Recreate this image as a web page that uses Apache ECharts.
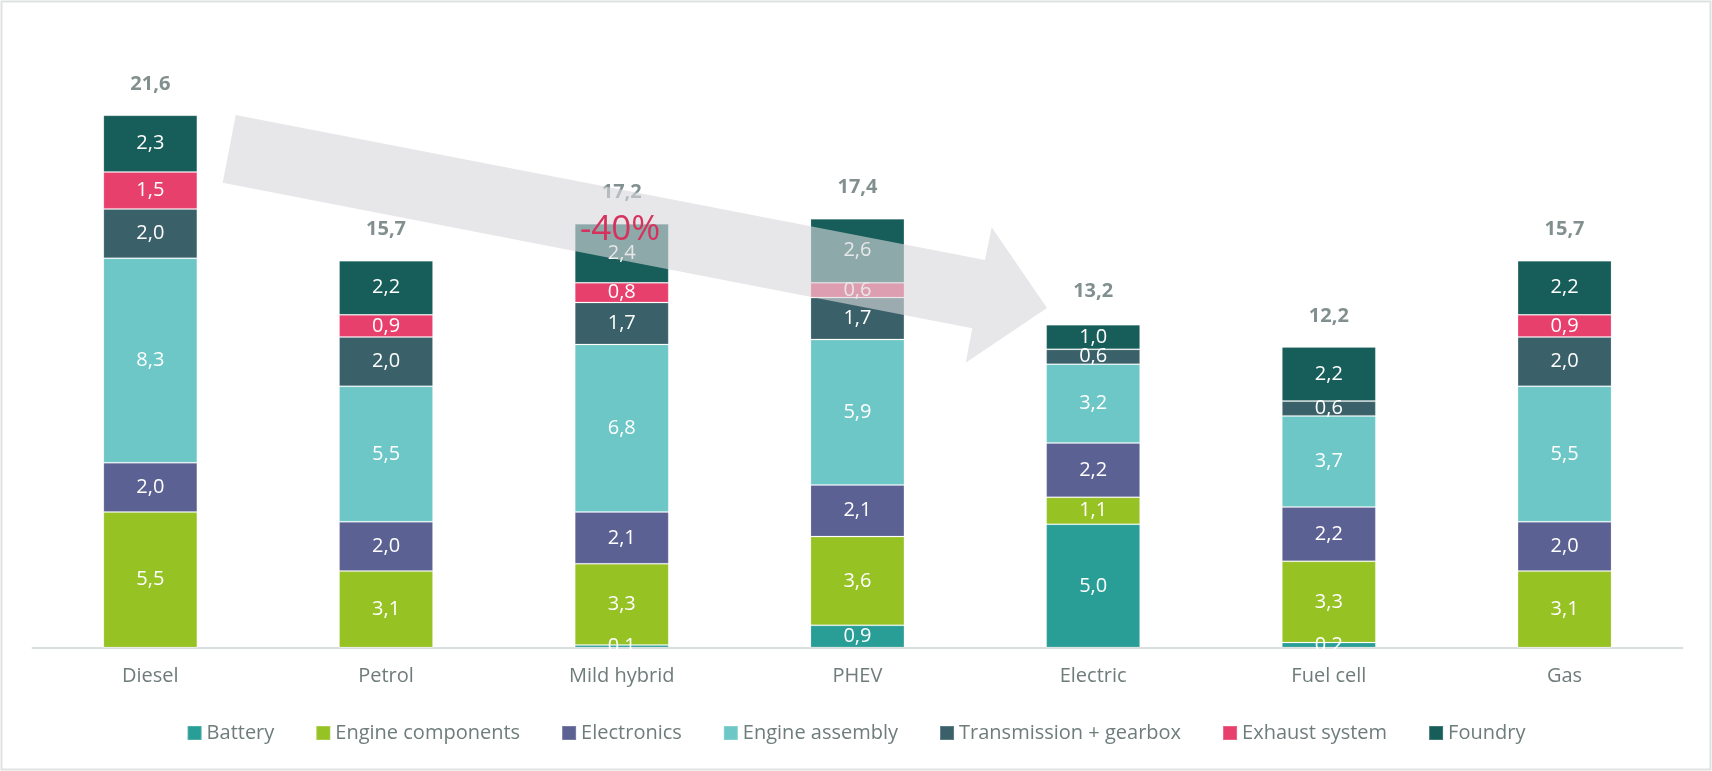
<!DOCTYPE html>
<html>
<head>
<meta charset="utf-8">
<script src="https://cdn.jsdelivr.net/npm/echarts@6/dist/echarts.min.js"></script>
<style>
  html, body { margin: 0; padding: 0; background: #fff; }
  #chart { width: 1712px; height: 771px; }
</style>
</head>
<body>
<div id="chart"></div>
<script>
let categories = ['Diesel', 'Petrol', 'Mild hybrid', 'PHEV', 'Electric', 'Fuel cell', 'Gas']

let battery = [0, 0, 0.1, 0.9, 5.0, 0.2, 0]
let engineComponents = [5.5, 3.1, 3.3, 3.6, 1.1, 3.3, 3.1]
let electronics = [2.0, 2.0, 2.1, 2.1, 2.2, 2.2, 2.0]
let engineAssembly = [8.3, 5.5, 6.8, 5.9, 3.2, 3.7, 5.5]
let transmission = [2.0, 2.0, 1.7, 1.7, 0.6, 0.6, 2.0]
let exhaust = [1.5, 0.9, 0.8, 0.6, 0, 0, 0.9]
let foundry = [2.3, 2.2, 2.4, 2.6, 1.0, 2.2, 2.2]
let totals = [21.6, 15.7, 17.2, 17.4, 13.2, 12.2, 15.7]

let parts = [
  { name: 'Battery', data: battery, color: '#289e96' },
  { name: 'Engine components', data: engineComponents, color: '#96c224' },
  { name: 'Electronics', data: electronics, color: '#5c6193' },
  { name: 'Engine assembly', data: engineAssembly, color: '#6cc7c6' },
  { name: 'Transmission + gearbox', data: transmission, color: '#3a6169' },
  { name: 'Exhaust system', data: exhaust, color: '#e8406d' },
  { name: 'Foundry', data: foundry, color: '#175d59' }
]

const FONT = '"Open Sans", "DejaVu Sans", sans-serif'
let fmt = v => v.toFixed(1).replace('.', ',')

let chart = echarts.init(document.getElementById('chart'))

let series = parts.map(p => ({
  name: p.name,
  type: 'bar',
  stack: 'total',
  barWidth: 94,
  data: p.data,
  itemStyle: {
    color: p.color,
    borderColor: 'rgba(255,255,255,0.18)',
    borderWidth: 1
  },
  label: {
    show: true,
    position: 'inside',
    color: '#fff',
    fontFamily: FONT,
    fontSize: 20,
    formatter: ({ value }) => value ? fmt(value) : ''
  },
  emphasis: { disabled: true }
}))

// totals above each stack
series.push({
  name: 'Total',
  type: 'scatter',
  symbolSize: 0,
  data: totals,
  z: 5,
  label: {
    show: true,
    position: 'inside',
    offset: [0, -31],
    color: '#627372',
    fontFamily: FONT,
    fontWeight: 'bold',
    fontSize: 20,
    formatter: ({ value }) => fmt(value)
  }
})

chart.setOption({
  animation: false,
  grid: {
    left: 32.5,
    right: 29.6,
    top: 31.5,
    bottom: 123.5,
    containLabel: false
  },
  legend: {
    data: parts.map(p => p.name),
    top: 718,
    left: 'center',
    icon: 'rect',
    itemWidth: 14,
    itemHeight: 14,
    itemGap: 41,
    textStyle: {
      color: '#6e7c7b',
      fontFamily: FONT,
      fontSize: 20
    }
  },
  xAxis: {
    type: 'category',
    data: categories,
    axisTick: { show: false },
    axisLine: { lineStyle: { color: '#d9dfde', width: 2 } },
    axisLabel: {
      color: '#6e7c7b',
      fontFamily: FONT,
      fontSize: 20,
      margin: 19
    }
  },
  yAxis: {
    type: 'value',
    show: false,
    min: 0,
    max: 25,
    splitLine: { show: false }
  },
  series: series,
  graphic: [
    {
      type: 'polygon',
      z: 100,
      silent: true,
      shape: {
        points: [
          [235.7, 115], [985, 260], [991.7, 227.3], [1047, 308],
          [965.7, 362.7], [972.3, 328.3], [222.7, 182.7]
        ]
      },
      style: { fill: 'rgba(216,216,219,0.62)' }
    },
    {
      type: 'text',
      z: 101,
      silent: true,
      x: 620,
      y: 230,
      style: {
        text: '-40%',
        fill: '#d6325c',
        font: '35px ' + FONT,
        align: 'center',
        verticalAlign: 'middle'
      }
    },
    {
      type: 'rect',
      z: 102,
      silent: true,
      shape: { x: 1.5, y: 1.5, width: 1709, height: 768 },
      style: { fill: 'none', stroke: '#dde3e2', lineWidth: 2 }
    }
  ]
})
</script>
</body>
</html>
